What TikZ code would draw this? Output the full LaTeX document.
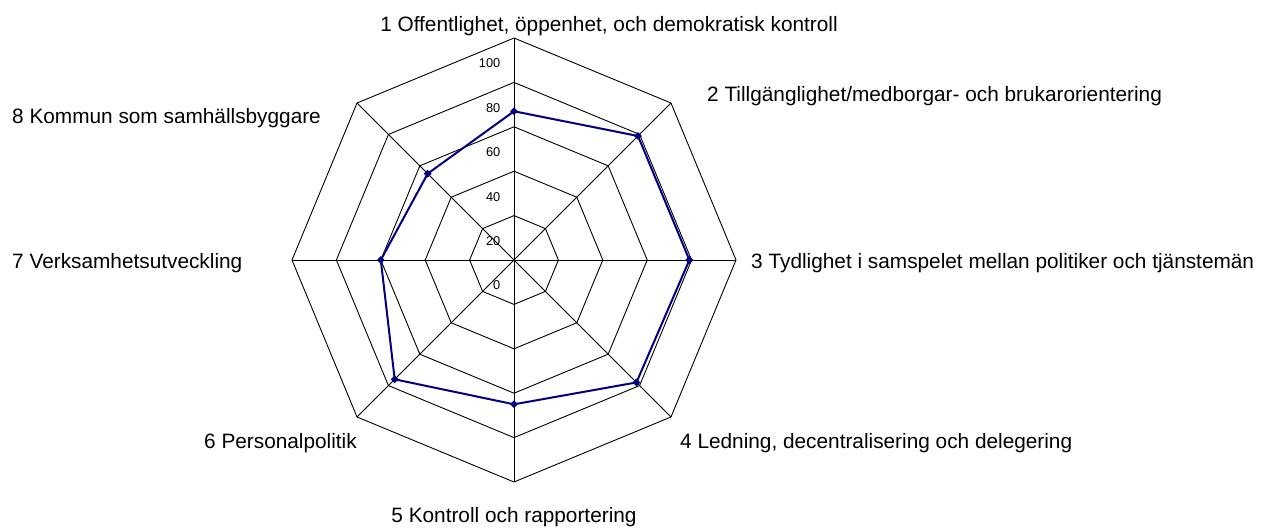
\documentclass[tikz,border=0pt]{standalone}
\usepackage{fontspec}
\setmainfont{Liberation Sans}
\usetikzlibrary{shapes.geometric}

\definecolor{seriesblue}{RGB}{0,0,128}

\newlength\ringstep
\setlength\ringstep{44.4pt}

\tikzset{
  gridline/.style={draw=black, line width=0.9pt, line join=miter},
  axislabel/.style={font=\fontsize{20.8}{24}\selectfont, inner sep=0pt},
  ticklabel/.style={font=\fontsize{12.8}{15}\selectfont, inner sep=0pt, anchor=east},
  series/.style={draw=seriesblue, line width=2pt, line join=round},
  datamark/.style={diamond, fill=seriesblue, inner sep=0pt, minimum size=8pt},
}

\begin{document}
\begin{tikzpicture}[x=1pt,y=-1pt]
  \useasboundingbox (0,0) rectangle (1268,531);

  \begin{scope}[shift={(514,260)}]
    % rings
    \foreach \r in {1,...,5} {
      \draw[gridline] (-90:\r*44.4) \foreach \k in {1,...,7} { -- ({45*\k-90}:\r*44.4) } -- cycle;
    }
    % spokes
    \coordinate (o) at (0,0);
    \foreach \k in {1,...,8} {
      \coordinate (a\k) at ({45*\k-135}:222);
      \draw[gridline] (o) -- (a\k);
    }
    % scale
    \foreach[count=\i from 0] \v in {0,20,...,100} {
      \node[ticklabel] (t\i) at (-13.5,-\i*44.4+25.5) {\v};
    }
    % series
    \foreach[count=\k] \v in {67,79,79,78,65,76,60,55} {
      \coordinate (p\k) at ({45*\k-135}:{\v*2.22});
    }
    \draw[series] (p1) -- (p2) -- (p3) -- (p4) -- (p5) -- (p6) -- (p7) -- (p8) -- cycle;
    \foreach \k in {1,...,8} {
      \node[datamark] (m\k) at (p\k) {};
    }
  \end{scope}

  \node[axislabel, anchor=base] (l1) at (609,31) {1 Offentlighet, öppenhet, och demokratisk kontroll};
  \node[axislabel, anchor=base west] (l2) at (707,101) {2 Tillgänglighet/medborgar- och brukarorientering};
  \node[axislabel, anchor=base west] (l3) at (751,268) {3 Tydlighet i samspelet mellan politiker och tjänstemän};
  \node[axislabel, anchor=base west] (l4) at (680,448) {4 Ledning, decentralisering och delegering};
  \node[axislabel, anchor=base] (l5) at (514,522) {5 Kontroll och rapportering};
  \node[axislabel, anchor=base east] (l6) at (357,448) {6 Personalpolitik};
  \node[axislabel, anchor=base west] (l7) at (12,268) {7 Verksamhetsutveckling};
  \node[axislabel, anchor=base west] (l8) at (12,123) {8 Kommun som samhällsbyggare};
\end{tikzpicture}
\end{document}
